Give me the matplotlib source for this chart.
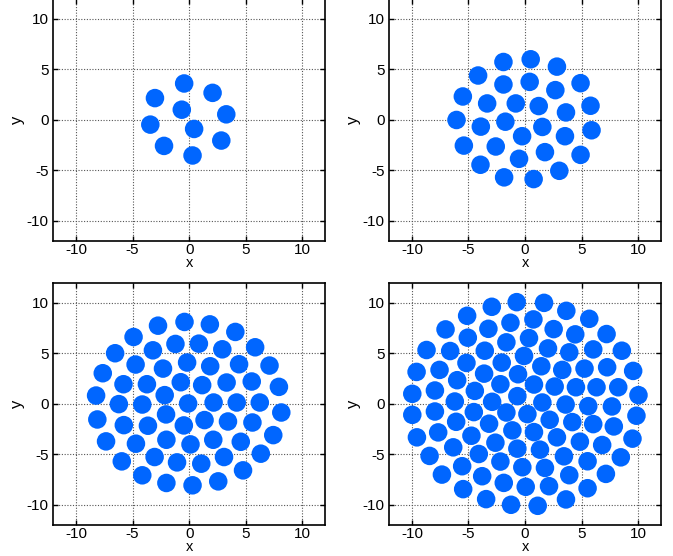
import matplotlib
matplotlib.use("Agg")
import matplotlib.pyplot as plt

plt.rcParams['font.family'] = ['Liberation Sans', 'DejaVu Sans']
plt.rcParams['axes.unicode_minus'] = False

# particle positions for four system sizes
x1 = [-0.44, 2.07, -3.02, -0.65, 3.28, -3.43, 0.44, 2.84, -2.22, 0.30]
y1 = [3.59, 2.66, 2.14, 0.99, 0.53, -0.49, -0.92, -2.07, -2.60, -3.55]

x2 = [0.50, -1.91, 2.82, -4.15, 0.41, -1.91, 4.91, 2.68, -5.50, -3.35,
      -0.82, 1.21, 5.79, 3.62, -6.06, -1.74, -3.91, 1.53, 5.88, -0.26,
      3.53, -5.41, -2.59, 1.76, 4.91, -0.53, -3.94, 3.03, -1.85, 0.76]
y2 = [5.99, 5.72, 5.26, 4.38, 3.75, 3.49, 3.62, 2.93, 2.30, 1.61,
      1.61, 1.35, 1.38, 0.72, -0.03, -0.20, -0.69, -0.72, -1.05, -1.64,
      -1.64, -2.57, -2.66, -3.22, -3.49, -3.88, -4.47, -5.07, -5.72, -5.89]

x3 = [-0.41, 1.83, -2.75, 4.08, -4.91, -1.21, 0.86, -3.20, 2.93, 5.83,
      -6.54, -0.18, -4.73, 1.86, -2.31, 4.41, 7.10, -7.63, -0.74, -3.73,
      -5.80, 1.15, 3.31, 5.53, 7.93, -2.16, -8.22, -6.21, -4.14, -0.09,
      2.16, 4.20, 6.24, 8.14, -2.04, -8.11, 1.36, 3.43, -5.77, -3.64,
      -0.47, 5.59, 7.43, -2.01, 2.13, -7.34, -4.70, 0.12, 4.56, -3.05,
      3.08, 6.33, -1.07, 1.07, -5.95, 4.76, -4.14, -2.01, 0.30, 2.57]
y3 = [8.11, 7.87, 7.74, 7.12, 6.62, 5.93, 5.96, 5.30, 5.40, 5.60,
      5.01, 4.09, 3.89, 3.72, 3.49, 3.92, 3.79, 3.03, 2.14, 1.94,
      1.94, 1.85, 2.11, 2.21, 1.68, 0.86, 0.82, -0.03, -0.07, 0.03,
      0.13, 0.13, 0.13, -0.86, -1.05, -1.55, -1.61, -1.75, -2.11, -2.17,
      -2.14, -1.85, -3.10, -3.56, -3.56, -3.72, -3.95, -4.02, -3.76, -5.27,
      -5.27, -4.94, -5.80, -5.93, -5.70, -6.59, -7.08, -7.84, -8.07, -7.68]

x4 = [-0.74, 1.68, -2.94, 3.65, -5.12, 5.68, -1.29, 0.74, -3.24, 2.53,
      -7.03, 4.44, 7.21, -5.06, 0.35, -1.65, -8.71, -6.62, -3.56, 2.03,
      3.91, 6.03, 8.56, -0.09, -5.18, -2.06, 1.44, 3.29, 5.26, 7.26,
      -9.59, -7.56, -3.62, -0.62, 9.56, -6.00, -2.18, 0.79, 2.62, 4.50,
      6.32, 8.24, -7.97, -4.44, -9.97, -0.68, 10.03, -6.21, -2.91, 1.53,
      3.59, 5.59, 7.68, -7.97, -4.53, -1.65, 0.21, -9.97, 9.85, 2.18,
      4.18, 6.03, -6.09, -3.18, 7.85, -1.12, 0.79, -7.68, -4.74, 2.82,
      -9.56, 9.50, -2.62, 4.85, 6.82, -6.35, -0.68, 1.32, -4.09, 3.44,
      -8.44, 8.47, -2.18, 5.53, -5.56, -0.24, 1.76, -7.35, -3.79, 3.91,
      7.15, -1.88, 2.12, 0.06, -5.47, 5.53, -3.44, 3.62, -1.24, 1.12]
y4 = [10.07, 10.00, 9.61, 9.21, 8.72, 8.42, 8.03, 8.36, 7.43, 7.40,
      7.37, 6.88, 6.91, 6.55, 6.51, 6.09, 5.33, 5.23, 5.26, 5.49,
      5.10, 5.39, 5.26, 4.74, 4.05, 4.08, 3.72, 3.36, 3.49, 3.62,
      3.16, 3.36, 2.99, 2.93, 3.26, 2.34, 1.94, 1.91, 1.71, 1.64,
      1.64, 1.64, 1.32, 1.28, 0.99, 0.76, 0.86, 0.23, 0.20, 0.13,
      -0.07, -0.23, -0.26, -0.76, -0.82, -0.86, -1.02, -1.09, -1.18, -1.58,
      -1.81, -2.01, -1.78, -1.97, -2.24, -2.63, -2.80, -2.83, -3.16, -3.32,
      -3.32, -3.45, -3.85, -3.75, -4.08, -4.31, -4.44, -4.54, -4.97, -5.20,
      -5.16, -5.30, -5.72, -5.69, -6.18, -6.28, -6.35, -7.01, -7.17, -7.07,
      -6.94, -7.83, -8.16, -8.22, -8.45, -8.36, -9.44, -9.47, -10.00, -10.10]

ticks = [-10, -5, 0, 5, 10]
dot_color = '#0066ff'

fig = plt.figure(figsize=(6.73, 5.56), dpi=100)

boxes = [
    [0.0792, 0.5671, 0.4037, 0.4353],
    [0.5785, 0.5671, 0.4033, 0.4353],
    [0.0792, 0.0558, 0.4037, 0.4358],
    [0.5785, 0.0558, 0.4033, 0.4358],
]
series = [(x1, y1), (x2, y2), (x3, y3), (x4, y4)]

for box, (xs, ys) in zip(boxes, series):
    ax = fig.add_axes(box)
    ax.scatter(xs, ys, s=178, c=dot_color, edgecolors='none', zorder=3)
    ax.set_xlim(-12, 12)
    ax.set_ylim(-12, 12)
    ax.set_xticks(ticks)
    ax.set_yticks(ticks)
    ax.grid(True, color='#555555', linestyle=(0, (1, 1.5)), linewidth=0.8)
    ax.tick_params(direction='in', length=3.5, width=1.0, top=True, right=True,
                   labelsize=11, colors='black')
    ax.tick_params(axis='x', pad=1.5)
    ax.tick_params(axis='y', pad=3.5)
    for sp in ax.spines.values():
        sp.set_linewidth(1.2)
        sp.set_color('black')
    ax.set_xlabel('x', fontsize=10.5, labelpad=-0.5)
    ax.set_ylabel('y', fontsize=12, labelpad=1)

fig.savefig('out.png', dpi=100)
